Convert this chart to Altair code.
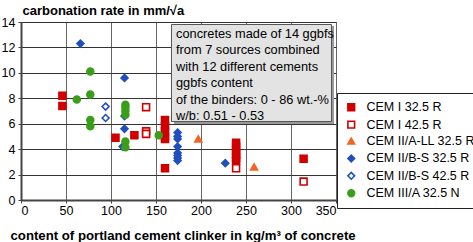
import altair as alt
import pandas as pd

FONT = "Liberation Sans"

series_names = ["CEM I 32.5 R", "CEM I 42.5 R", "CEM II/A-LL 32.5 R",
                "CEM II/B-S 32.5 R", "CEM II/B-S 42.5 R", "CEM III/A 32.5 N"]
series_shapes = ["square", "square", "triangle-up", "diamond", "diamond", "circle"]
series_fill = ["#d10000", "white", "#f26522", "#1f4fbf", "white", "#3a9e1a"]
series_stroke = ["#d10000", "#d10000", "#f26522", "#1f4fbf", "#1f4fbf", "#3a9e1a"]

cem1_325_x = [46, 46, 105, 126, 160, 160, 160, 160, 160, 160, 239, 239, 239, 239, 239, 239, 314]
cem1_325_y = [8.2, 7.4, 4.9, 5.1, 6.3, 5.8, 5.4, 5.0, 4.8, 2.5, 4.5, 4.2, 3.9, 3.6, 3.3, 3.1, 3.25]
cem1_425_x = [139, 139, 139, 239, 314]
cem1_425_y = [7.3, 5.4, 5.2, 2.5, 1.45]
cem2all_x = [197, 259]
cem2all_y = [4.8, 2.6]
cem2bs325_x = [66, 115, 115, 115, 113, 174, 174, 174, 174, 174, 174, 174, 174, 227]
cem2bs325_y = [12.3, 9.6, 6.6, 5.6, 4.2, 5.3, 5.0, 4.8, 4.2, 3.7, 3.5, 3.3, 3.1, 2.9]
cem2bs425_x = [94, 94]
cem2bs425_y = [7.35, 6.45]
cem3_x = [62, 77, 77, 77, 77, 116, 116, 116, 116, 116, 116, 153]
cem3_y = [7.9, 10.1, 8.3, 6.3, 5.8, 7.5, 7.3, 7.0, 6.7, 4.6, 4.15, 5.1]

x_ticks = [0, 50, 100, 150, 200, 250, 300, 350]
y_ticks = [0, 2, 4, 6, 8, 10, 12, 14]

note_lines = ["concretes made of 14 ggbfs", "from 7 sources combined",
              "with 12 different cements", "ggbfs content",
              "of the binders: 0 - 86 wt.-%", "w/b: 0.51 - 0.53"]

rows = []
for name, xs, ys in [
    (series_names[0], cem1_325_x, cem1_325_y),
    (series_names[1], cem1_425_x, cem1_425_y),
    (series_names[2], cem2all_x, cem2all_y),
    (series_names[3], cem2bs325_x, cem2bs325_y),
    (series_names[4], cem2bs425_x, cem2bs425_y),
    (series_names[5], cem3_x, cem3_y),
]:
    for xv, yv in zip(xs, ys):
        rows.append({"series": name, "x": xv, "y": yv})
df = pd.DataFrame(rows)

leg = alt.Legend(title=None, orient="none", legendX=316, legendY=71,
                 strokeColor="#222", fillColor="white", padding=8,
                 rowPadding=3.4, labelFontSize=12.5, labelFont=FONT,
                 labelColor="black", symbolSize=45, symbolStrokeWidth=1.6,
                 labelOffset=9, labelLimit=200)

points = alt.Chart(df).mark_point(filled=True, opacity=1, size=48, strokeWidth=1.6).encode(
    x=alt.X("x:Q", scale=alt.Scale(domain=[0, 350], nice=False),
            axis=alt.Axis(values=x_ticks, title="content of portland cement clinker in kg/m³ of concrete",
                          titleX=-11, titleY=39, titleBaseline="alphabetic", titleAnchor="start",
                          titleAlign="left", titleFontSize=13.2)),
    y=alt.Y("y:Q", scale=alt.Scale(domain=[0, 14], nice=False),
            axis=alt.Axis(values=y_ticks, title="carbonation rate in mm/√a",
                          titleAngle=0, titleAlign="left", titleX=1, titleY=-8,
                          titleBaseline="alphabetic", titleFontSize=13)),
    shape=alt.Shape("series:N", scale=alt.Scale(domain=series_names, range=series_shapes), legend=leg),
    fill=alt.Fill("series:N", scale=alt.Scale(domain=series_names, range=series_fill), legend=leg),
    stroke=alt.Stroke("series:N", scale=alt.Scale(domain=series_names, range=series_stroke), legend=leg),
)

one = pd.DataFrame({"k": [0]})
shadow = alt.Chart(one).mark_rect(fill="#9a9a9a").encode(
    x=alt.value(153), x2=alt.value(313), y=alt.value(4), y2=alt.value(102))
box = alt.Chart(one).mark_rect(fill="#e3e3e3", stroke="#555", strokeWidth=1).encode(
    x=alt.value(150.5), x2=alt.value(310.5), y=alt.value(2.5), y2=alt.value(99.5))
note = alt.Chart(one).mark_text(align="left", baseline="middle", fontSize=12.8, font=FONT,
                                lineHeight=16.5, color="black").encode(
    x=alt.value(155), y=alt.value(11.5), text=alt.value(note_lines))

chart = alt.layer(points, shadow, box, note).properties(
    width=315, height=178,
    padding={"left": 21, "top": 22, "right": 137, "bottom": 42},
    autosize=alt.AutoSizeParams(type="none"),
    background="white",
).configure_view(stroke="#888", strokeWidth=1).configure_axis(
    labelFont=FONT, labelFontSize=12.5, labelColor="black",
    titleFont=FONT, titleFontWeight="bold", titleColor="black",
    gridColor="#333", gridWidth=1, gridOpacity=1,
    domainColor="#444", domainWidth=2, tickColor="#444", tickSize=3, tickWidth=1,
).configure_axisX(labelPadding=1, gridColor="#666").configure_axisY(labelPadding=3)

chart.save("out.html", embed_options={"renderer": "svg", "actions": False})
